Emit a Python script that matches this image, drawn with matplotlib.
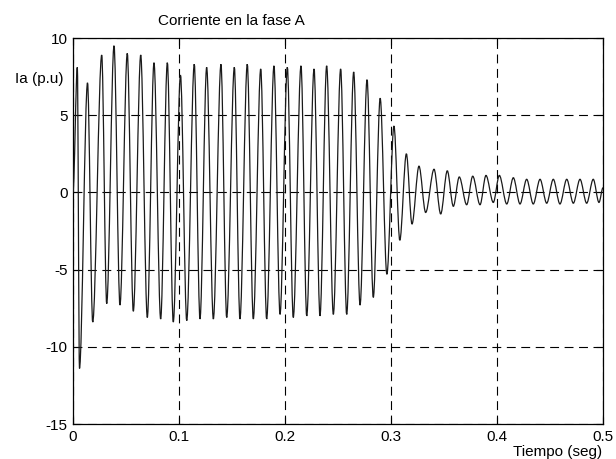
import matplotlib
matplotlib.use("Agg")
import matplotlib.pyplot as plt
from matplotlib.path import Path
from matplotlib.patches import PathPatch

plt.rcParams['font.family'] = ['Liberation Sans', 'DejaVu Sans']

# Extrema of the phase-A current (time in s, value in p.u.)
t_ext = [0.0, 0.0041, 0.0061, 0.0137, 0.0186, 0.0271, 0.0318, 0.0387, 0.0443,
         0.0512, 0.0569, 0.0639, 0.0701, 0.0764, 0.0827, 0.0890, 0.0946, 0.1014,
         0.1073, 0.1144, 0.1198, 0.1261, 0.1324, 0.1396, 0.1450, 0.1522, 0.1575,
         0.1644, 0.1701, 0.1771, 0.1827, 0.1896, 0.1953, 0.2022, 0.2078, 0.2151,
         0.2205, 0.2274, 0.2330, 0.2393, 0.2456, 0.2525, 0.2582, 0.2648, 0.2708,
         0.2774, 0.2833, 0.2898, 0.2961, 0.3028, 0.3083, 0.3145, 0.3198, 0.3264,
         0.3327, 0.3406, 0.3469, 0.3531, 0.3588, 0.3644, 0.3714, 0.3771, 0.3840,
         0.3896, 0.3965, 0.4022, 0.4092, 0.4154, 0.4217, 0.4280, 0.4342, 0.4406,
         0.4469, 0.4531, 0.4594, 0.4658, 0.4720, 0.4783, 0.4846, 0.4908, 0.4962,
         0.5]
ia_ext = [0.0, 8.1, -11.4, 7.1, -8.4, 8.9, -7.2, 9.5, -7.3,
          9.0, -7.7, 8.9, -8.1, 8.4, -8.2, 8.4, -8.4, 7.6,
          -8.3, 8.3, -8.2, 8.1, -8.2, 8.3, -8.1, 8.1, -8.2,
          8.3, -8.2, 8.0, -8.2, 8.2, -7.9, 8.1, -8.1, 8.2,
          -8.0, 8.0, -8.0, 8.2, -7.9, 8.0, -7.9, 7.8, -7.3,
          7.3, -6.8, 6.1, -5.3, 4.3, -3.1, 2.5, -2.05, 1.7,
          -1.3, 1.5, -1.4, 1.4, -0.9, 1.0, -0.8, 1.05, -0.8,
          1.1, -0.65, 1.1, -0.75, 0.95, -0.75, 0.85, -0.75, 0.85,
          -0.7, 0.85, -0.75, 0.85, -0.7, 0.85, -0.7, 0.85, -0.65,
          0.3]

x_ticks = [0, 0.1, 0.2, 0.3, 0.4, 0.5]
x_ticklabels = ['0', '0.1', '0.2', '0.3', '0.4', '0.5']
y_ticks = [-15, -10, -5, 0, 5, 10]
y_ticklabels = ['-15', '-10', '-5', '0', '5', '10']

fig = plt.figure(figsize=(6.16, 4.59), dpi=100)
ax = fig.add_axes([73/616, 1 - 424/459, 530/616, 386/459])

# Smooth curve through the extrema, drawn as Bezier segments in data coordinates
verts = [(t_ext[0], ia_ext[0])]
codes = [Path.MOVETO]
for i in range(len(t_ext) - 1):
    t0, v0 = t_ext[i], ia_ext[i]
    t1, v1 = t_ext[i + 1], ia_ext[i + 1]
    dt = t1 - t0
    verts += [(t0 + dt / 3, v0), (t1 - dt / 3, v1), (t1, v1)]
    codes += [Path.CURVE4, Path.CURVE4, Path.CURVE4]
ax.add_patch(PathPatch(Path(verts, codes), fill=False, edgecolor='#1a1a1a',
                       lw=0.9, zorder=3))

ax.set_xlim(0, 0.5)
ax.set_ylim(-15, 10)
ax.set_xticks(x_ticks)
ax.set_xticklabels(x_ticklabels)
ax.set_yticks(y_ticks)
ax.set_yticklabels(y_ticklabels)
ax.tick_params(direction='in', length=5, width=0.8, top=True, right=True,
               labelsize=11, pad=4)
ax.grid(True, color='black', linestyle=(0, (8, 5)), linewidth=0.8)
for s in ax.spines.values():
    s.set_linewidth(0.9)

fig.text(231/616, 1 - 21/459, 'Corriente en la fase A', ha='center', va='center',
         fontsize=11)
fig.text(39/616, 1 - 79/459, 'Ia (p.u)', ha='center', va='center', fontsize=11)
fig.text(558/616, 1 - 452/459, 'Tiempo (seg)', ha='center', va='center',
         fontsize=11)

fig.savefig('out.png', dpi=100)
